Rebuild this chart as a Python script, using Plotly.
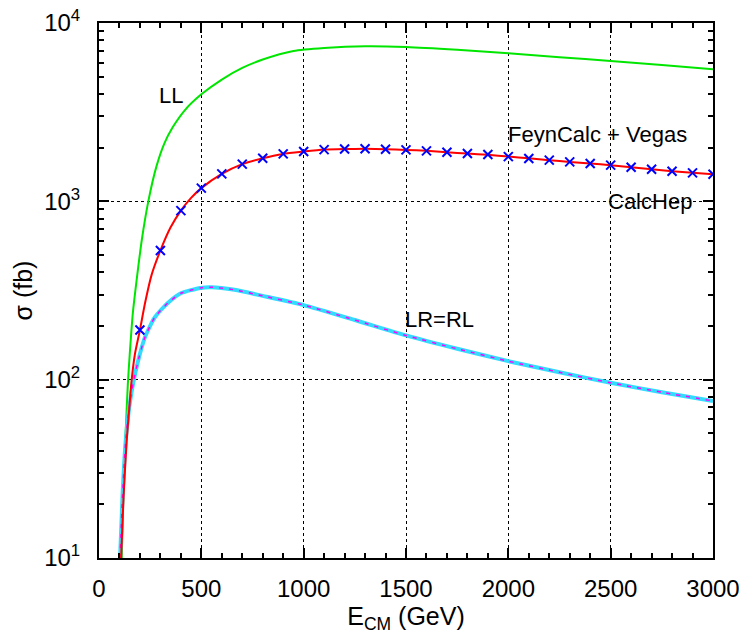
import plotly.graph_objects as go

# ---- data ----
E_LL = [111, 120, 130, 141, 150, 165, 187, 210, 241, 280, 320, 360, 420, 500, 600,
        700, 800, 950, 1100, 1300, 1500, 1750, 2000, 2250, 2500, 2750, 3000]
sigma_LL = [10, 25, 50, 95, 138, 234, 387, 617, 1000, 1560, 2120, 2600, 3250, 3980, 4819,
            5598, 6237, 6966, 7244, 7413, 7345, 7080, 6761, 6427, 6124, 5808, 5495]

E_FC = [108, 120, 135, 150, 158, 175, 200, 225, 257, 300, 350, 400, 450, 500, 600, 700,
        800, 900, 1000, 1100, 1200, 1300, 1400, 1500, 1600, 1700, 1800, 1900, 2000,
        2100, 2200, 2300, 2400, 2500, 2600, 2700, 2800, 2900, 3000]
sigma_FC = [10, 22, 45, 74, 96, 138, 190, 269, 387, 530, 715, 887, 1045, 1186, 1426, 1616,
            1744, 1845, 1901, 1950, 1965, 1970, 1960, 1943, 1919, 1886, 1853, 1822, 1785,
            1742, 1702, 1664, 1629, 1594, 1554, 1514, 1477, 1446, 1420]

E_CH = [200, 300, 400, 500, 600, 700, 800, 900, 1000, 1100, 1200, 1300, 1400, 1500,
        1600, 1700, 1800, 1900, 2000, 2100, 2200, 2300, 2400, 2500, 2600, 2700, 2800,
        2900, 3000]
sigma_CH = [190, 530, 887, 1186, 1426, 1616, 1744, 1845, 1901, 1950, 1965, 1970, 1960,
            1943, 1919, 1886, 1853, 1829, 1782, 1738, 1702, 1664, 1629, 1596, 1554, 1514,
            1475, 1444, 1420]

E_LR = [103, 115, 130, 145, 155, 167, 190, 223, 271, 336, 402, 496, 548, 662, 800,
        1000, 1250, 1500, 1750, 2000, 2250, 2500, 2750, 3000]
sigma_LR = [10, 22.4, 44.7, 66, 79.4, 95.5, 126, 171, 222, 269, 306, 327, 330, 319, 295,
            262, 216, 177, 149, 127, 110, 96, 85, 76]

x_ticks = [0, 500, 1000, 1500, 2000, 2500, 3000]
y_ticks = [10, 100, 1000, 10000]
y_ticktext = ["10<sup>1</sup>", "10<sup>2</sup>", "10<sup>3</sup>", "10<sup>4</sup>"]

FONT = "Liberation Sans"

fig = go.Figure()
fig.add_trace(go.Scatter(x=E_LL, y=sigma_LL, mode="lines",
                         line=dict(color="#00e600", width=2, shape="spline", smoothing=0.6),
                         showlegend=False))
fig.add_trace(go.Scatter(x=E_LR, y=sigma_LR, mode="lines",
                         line=dict(color="#33dcff", width=4, shape="spline", smoothing=0.6),
                         showlegend=False))
fig.add_trace(go.Scatter(x=E_LR, y=sigma_LR, mode="lines",
                         line=dict(color="#ff00ff", width=1.5, dash="4px,6px",
                                   shape="spline", smoothing=0.6),
                         showlegend=False))
fig.add_trace(go.Scatter(x=E_FC, y=sigma_FC, mode="lines",
                         line=dict(color="#ff0000", width=2, shape="spline", smoothing=0.6),
                         showlegend=False))
fig.add_trace(go.Scatter(x=E_CH, y=sigma_CH, mode="markers",
                         marker=dict(symbol="x-thin", size=9, color="#0000ff",
                                     line=dict(color="#0000ff", width=2)),
                         showlegend=False))

ann_font = dict(family=FONT, size=22, color="black")
fig.add_annotation(x=354, y=3.591, text="LL", showarrow=False, font=ann_font)
fig.add_annotation(x=2437, y=3.373, text="FeynCalc + Vegas", showarrow=False, font=ann_font)
fig.add_annotation(x=2693, y=2.999, text="CalcHep", showarrow=False, font=ann_font)
fig.add_annotation(x=1663, y=2.340, text="LR=RL", showarrow=False, font=ann_font)

axis_common = dict(showline=True, linecolor="black", linewidth=2, mirror="ticks",
                   ticks="inside", ticklen=10, tickwidth=1.5, tickcolor="black",
                   showgrid=True, gridcolor="black", gridwidth=1, griddash="dot",
                   zeroline=False, automargin=False, ticklabeloverflow="allow",
                   tickfont=dict(family=FONT, size=24, color="black"))

fig.update_xaxes(range=[0, 3000], tickvals=x_ticks, ticklabelstandoff=8,
                 minor=dict(dtick=100, ticks="inside", ticklen=5, tickwidth=1.5,
                            tickcolor="black", showgrid=False),
                 title=dict(text="E<sub>CM</sub> (GeV)", font=dict(family=FONT, size=25, color="black"),
                            standoff=6),
                 **axis_common)
fig.update_yaxes(type="log", range=[1, 4], tickvals=y_ticks, ticktext=y_ticktext,
                 ticklabelstandoff=12,
                 minor=dict(ticks="inside", ticklen=5, tickwidth=1.5, tickcolor="black",
                            dtick="D1", showgrid=False),
                 title=dict(text="σ (fb)", font=dict(family=FONT, size=25, color="black"),
                            standoff=4),
                 **axis_common)

fig.update_layout(width=745, height=637, margin=dict(l=99, r=32, t=23, b=79),
                  plot_bgcolor="white", paper_bgcolor="white")

# remove the browser's default 8px body margin so the figure fills the window exactly
fig.write_html("out.html", config={"displayModeBar": False},
               post_script="document.body.style.margin='0';document.body.style.overflow='hidden';")
